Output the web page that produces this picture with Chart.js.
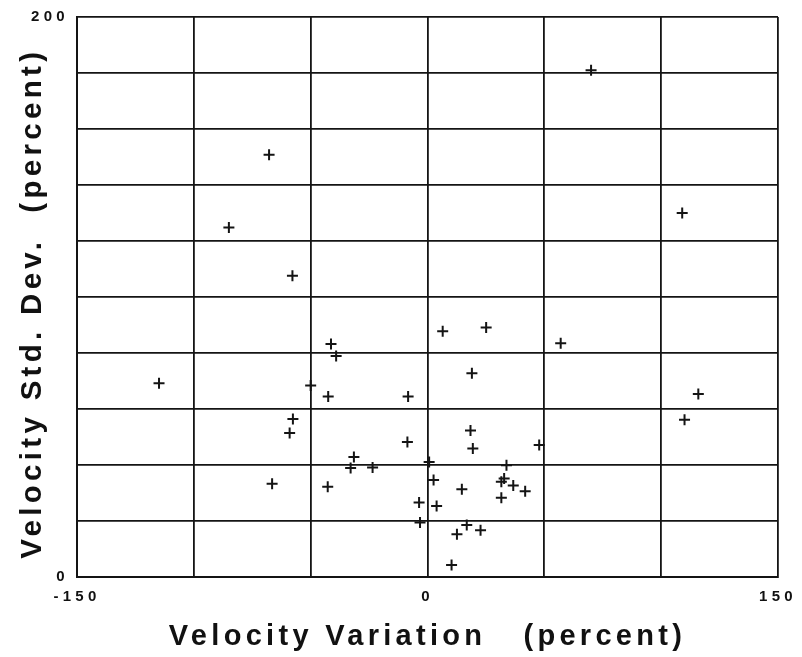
<!DOCTYPE html>
<html>
<head>
<meta charset="utf-8">
<script src="https://cdn.jsdelivr.net/npm/chart.js@4/dist/chart.umd.min.js"></script>
<style>
  html, body { margin: 0; padding: 0; background: #fff; }
  #wrap { width: 802px; height: 657px; }
</style>
</head>
<body>
<div id="wrap"><canvas id="chart" width="802" height="657"></canvas></div>
<script>
// velocity variation (x) and velocity std. dev. (y), percent
let variation = [-67.8, -85, -57.8, 70, 109,
    -114.9, -41.3, -39.1, -50, -42.5, -57.6, -59, -31.5, -32.9, -23.5, -66.5, -42.7,
    6.5, 25.1, 57, 19, -8.3, 115.9, 110, 18.4, 19.4, -8.6, 47.8, 0.7, 33.8, 2.6,
    14.7, 31.6, 32.8, 36.7, 41.8, 31.6, -3.6, 3.9, -3.2, 16.8, 12.6, 22.7, 10.3];
let stdDev = [150.8, 124.8, 107.6, 181, 130,
    69.2, 83.2, 78.9, 68.4, 64.5, 56.4, 51.4, 42.9, 38.9, 39.1, 33.3, 32.2,
    87.8, 89.1, 83.5, 72.8, 64.5, 65.4, 56.2, 52.3, 45.9, 48.2, 47.1, 41.1, 39.9, 34.6,
    31.3, 34, 35.2, 32.7, 30.6, 28.3, 26.6, 25.4, 19.5, 18.6, 15.3, 16.7, 4.3];

let xLabels = [-150, 0, 150];
let yLabels = [0, 200];

let punkter = [];
variation.forEach((v, i) => punkter.push({x: v, y: stdDev[i]}));

let strek = '#141414';

// the lettering on the original is spaced out
const sperret = {
    id: 'sperret',
    beforeDraw(chart) {
        chart.ctx.letterSpacing = '4.3px';
    }
};

new Chart(document.getElementById('chart'), {
    type: 'scatter',
    data: {
        datasets: [{
            data: punkter,
            pointStyle: 'cross',
            pointRadius: 5.5,
            pointBorderWidth: 2,
            borderColor: strek,
            backgroundColor: strek
        }]
    },
    plugins: [sperret],
    options: {
        responsive: false,
        animation: false,
        layout: { padding: { left: 11, right: 24, top: 11, bottom: 0 } },
        plugins: { legend: { display: false }, tooltip: { enabled: false } },
        scales: {
            x: {
                type: 'linear',
                min: -150, max: 150,
                afterFit: s => { s.height = 80; },
                ticks: {
                    stepSize: 50,
                    autoSkip: false,
                    maxRotation: 0,
                    padding: 11,
                    color: '#111',
                    font: { family: 'Liberation Sans', size: 15, weight: 'bold' },
                    callback: v => xLabels.includes(v) ? String(v) : ''
                },
                grid: { color: strek, lineWidth: 1.8, drawTicks: false },
                border: { color: strek, width: 2 },
                title: {
                    display: true,
                    text: 'Velocity Variation   (percent)',
                    color: '#111',
                    padding: { top: 4, bottom: 3 },
                    font: { family: 'Liberation Sans', size: 29, weight: 'bold' }
                }
            },
            y: {
                min: 0, max: 200,
                afterFit: s => { s.width = 66; },
                ticks: {
                    stepSize: 20,
                    autoSkip: false,
                    padding: 8,
                    color: '#111',
                    font: { family: 'Liberation Sans', size: 15, weight: 'bold' },
                    callback: v => yLabels.includes(v) ? String(v) : ''
                },
                grid: { color: strek, lineWidth: 1.8, drawTicks: false },
                border: { color: strek, width: 2 },
                title: {
                    display: true,
                    text: 'Velocity Std. Dev.  (percent) ',
                    color: '#111',
                    padding: { top: 4, bottom: 4 },
                    font: { family: 'Liberation Sans', size: 29.5, weight: 'bold' }
                }
            }
        }
    }
});
</script>
</body>
</html>
